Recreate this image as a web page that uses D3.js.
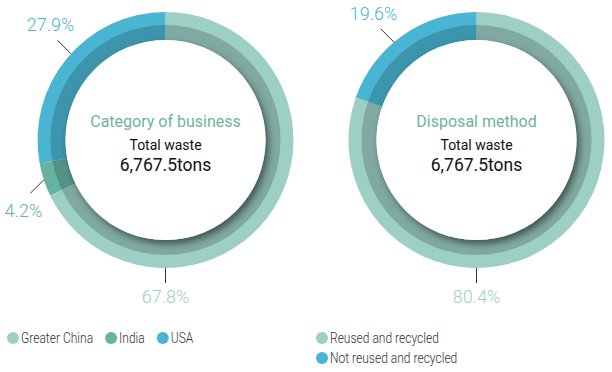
<!DOCTYPE html>
<html>
<head>
<meta charset="utf-8">
<script src="https://cdn.jsdelivr.net/npm/d3@7"></script>
<style>
  body { margin: 0; background: #fff; }
  svg { display: block; font-family: Roboto, sans-serif; }
</style>
</head>
<body>
<svg id="chart" width="612" height="372"></svg>
<script>
const businessCategories = ["Greater China", "India", "USA"];
const businessShares = [67.8, 4.2, 27.9];
const disposalCategories = ["Reused and recycled", "Not reused and recycled"];
const disposalShares = [80.4, 19.6];
const centerTitles = ["Category of business", "Disposal method"];
const totalLabel = "Total waste";
const totalValue = "6,767.5tons";

const palette = {
  "Greater China": "#9dcfc5",
  "India": "#66b3a1",
  "USA": "#4ab5d3",
  "Reused and recycled": "#9dcfc5",
  "Not reused and recycled": "#4ab5d3"
};

const svg = d3.select("#chart");
const outerR = 128, innerR = 100, bandR = 115;

const defs = svg.append("defs");
const f = defs.append("filter").attr("id", "holeShadow")
  .attr("x", "-20%").attr("y", "-20%").attr("width", "140%").attr("height", "140%");
f.append("feDropShadow").attr("dx", 3).attr("dy", 4).attr("stdDeviation", 3.5)
  .attr("flood-color", "#000").attr("flood-opacity", 0.5);

const pie = d3.pie().sort(null).value(d => d.value);
const arc = d3.arc().innerRadius(innerR).outerRadius(outerR);

function drawDonut(cx, cy, cats, vals, title) {
  const data = cats.map((c, i) => ({ name: c, value: vals[i] }));
  const arcs = pie(data);
  const g = svg.append("g").attr("transform", `translate(${cx},${cy})`);

  g.selectAll("path.seg").data(arcs).enter().append("path")
    .attr("class", "seg")
    .attr("d", arc)
    .attr("fill", d => palette[d.data.name]);

  // darker inner band
  g.append("path")
    .attr("d", d3.arc().innerRadius(innerR).outerRadius(bandR).startAngle(0).endAngle(2 * Math.PI)())
    .attr("fill", "#000").attr("opacity", 0.18);

  // hole with shadow
  g.append("circle").attr("r", innerR).attr("fill", "#fff").attr("filter", "url(#holeShadow)");

  // labels
  arcs.forEach(d => {
    let ang, dir;
    if (d.startAngle <= Math.PI && d.endAngle >= Math.PI) {
      ang = Math.PI; dir = Math.PI;
    } else {
      ang = (d.startAngle + d.endAngle) / 2;
      dir = Math.round((ang - Math.PI / 4) / (Math.PI / 2)) * (Math.PI / 2) + Math.PI / 4;
      // upper labels lean toward the diagonal
      if (Math.cos(ang) > 0) ang = (ang + dir) / 2;
    }
    const x0 = Math.sin(ang) * outerR, y0 = -Math.cos(ang) * outerR;
    const len = ang === Math.PI ? 15 : 19;
    const x1 = x0 + Math.sin(dir) * len, y1 = y0 - Math.cos(dir) * len;
    g.append("line")
      .attr("x1", x0).attr("y1", y0).attr("x2", x1).attr("y2", y1)
      .attr("stroke", "#333").attr("stroke-width", 1);
    const dx = Math.sin(dir), dy = -Math.cos(dir);
    const tx = x1 + (Math.abs(dx) < 0.1 ? 0 : Math.sign(dx) * 7);
    const ty = dy < 0 ? y1 - 9 : y1 + (Math.abs(dx) < 0.1 ? 20 : 24);
    g.append("text")
      .attr("x", tx).attr("y", ty)
      .attr("text-anchor", "middle")
      .attr("font-size", 18).attr("font-weight", 300)
      .attr("fill", palette[d.data.name])
      .text(d3.format(".1f")(d.data.value) + "%");
  });

  g.append("text").attr("y", -13).attr("text-anchor", "middle")
    .attr("font-size", 16).attr("fill", "#6db39d").text(title);
  g.append("text").attr("y", 10).attr("text-anchor", "middle")
    .attr("font-size", 14).attr("fill", "#111").text(totalLabel);
  g.append("text").attr("y", 31).attr("text-anchor", "middle")
    .attr("font-size", 17.5).attr("fill", "#111").text(totalValue);
}

drawDonut(165.5, 140, businessCategories, businessShares, centerTitles[0]);
drawDonut(476.5, 140, disposalCategories, disposalShares, centerTitles[1]);

// legends (narrow text like the source)
function legendItem(x, y, name) {
  const g = svg.append("g").attr("transform", `translate(${x},${y})`);
  g.append("circle").attr("r", 6).attr("fill", palette[name]);
  g.append("text").attr("transform", "translate(8,0) scale(0.86,1)").attr("dy", "0.36em")
    .attr("font-size", 14).attr("font-weight", 300).attr("fill", "#333").text(name);
  return g;
}
let lx = 13;
businessCategories.forEach(name => {
  const g = legendItem(lx, 338, name);
  lx += g.node().getBBox().width + 12;
});
disposalCategories.forEach((name, i) => legendItem(322, 338 + i * 20, name));
</script>
</body>
</html>
